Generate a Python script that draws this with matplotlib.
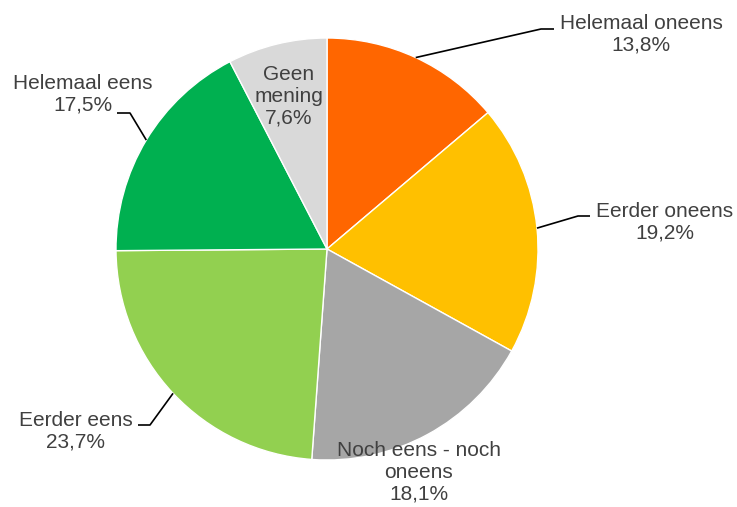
import numpy as np
import matplotlib.pyplot as plt

plt.rcParams['font.family'] = ['Liberation Sans', 'DejaVu Sans']

# data
labels = ['Helemaal oneens', 'Eerder oneens', 'Noch eens - noch\noneens',
          'Eerder eens', 'Helemaal eens', 'Geen\nmening']
values = [13.8, 19.2, 18.1, 23.7, 17.5, 7.6]
colors = ['#FF6600', '#FFC000', '#A6A6A6', '#92D050', '#00B050', '#D9D9D9']

W, H = 737, 507
fig = plt.figure(figsize=(W / 100, H / 100), dpi=100)
ax = fig.add_axes([0, 0, 1, 1])
ax.set_xlim(0, W)
ax.set_ylim(0, H)
ax.set_aspect('equal')
ax.axis('off')


def px(x, y):
    # pixel coords (top-left origin) -> data coords
    return x, H - y


cx, cy = px(327, 249)
r = 211
wedges, _ = ax.pie(values, colors=colors, startangle=90, counterclock=False,
                   center=(cx, cy), radius=r, frame=True,
                   wedgeprops=dict(edgecolor='white', linewidth=1))
ax.set_xlim(0, W)
ax.set_ylim(0, H)
ax.axis('off')

# label layout: text centre, elbow point, end of horizontal segment (pixels)
layout = [
    ((641, 34), (541, 29), (554, 29)),
    ((665, 222), (578, 216), (590, 216)),
    ((419, 472), None, None),
    ((76, 431), (150, 425), (138, 425)),
    ((83, 94), (130, 113), (117, 113)),
    ((289, 96), None, None),
]

for w, lab, val, (tpos, elbow, end) in zip(wedges, labels, values, layout):
    ang = np.deg2rad((w.theta1 + w.theta2) / 2)
    if elbow is not None:
        sx = cx + r * np.cos(ang)
        sy = cy + r * np.sin(ang)
        ex, ey = px(*elbow)
        hx, hy = px(*end)
        ax.plot([sx, ex, hx], [sy, ey, hy], color='black', lw=1.2,
                solid_capstyle='butt', zorder=3)
    txt = lab + '\n' + f'{val:.1f}%'.replace('.', ',')
    tx, ty = px(*tpos)
    ax.text(tx, ty, txt, ha='center', va='center', fontsize=15,
            color='#404040', linespacing=1.17, zorder=4)

fig.savefig('out.png', dpi=100)
